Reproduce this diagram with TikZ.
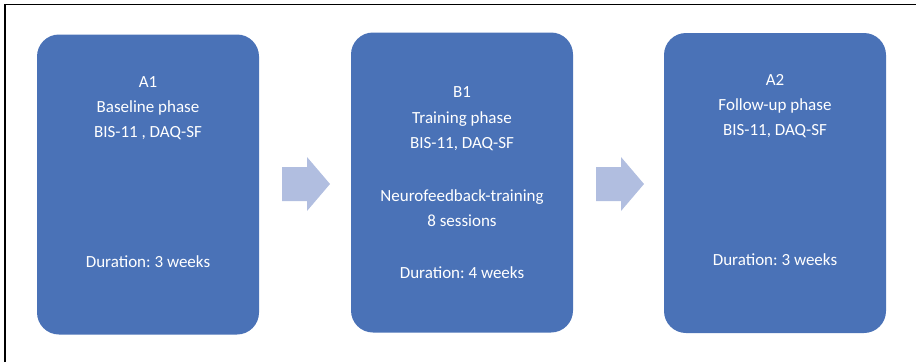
\documentclass[tikz,border=0pt]{standalone}
\usepackage{fontspec}
\setmainfont{Carlito}
\usepackage{tikz}
\usetikzlibrary{positioning}
\frenchspacing

\definecolor{phaseblue}{HTML}{4A72B7}
\definecolor{arrowblue}{HTML}{B1BEE0}

\tikzset{
	phase/.style={fill=phaseblue, rounded corners=22pt, minimum width=222pt, minimum height=300pt, inner sep=0pt},
	phasetext/.style={anchor=base, text=white, font=\fontsize{17pt}{20pt}\selectfont, inner sep=0pt},
	blockarrow/.style={fill=arrowblue}
}

\begin{document}
\begin{tikzpicture}[x=1pt, y=-1pt]
		\useasboundingbox (0,0) rectangle (916,362);
		
		% Frame.
		\draw[line width=1.4pt] (5,362) -- (5,4.5) -- (916,4.5);
		
		% Phase boxes.
		\node[phase] (a1) at (148,184.5) {};
		\node[phase] (b1) at (462,182.5) {};
		\node[phase] (a2) at (775,183) {};
		
		% Baseline phase.
		\node[phasetext] (a1name)  at (148,87)  {A1};
		\node[phasetext] (a1phase) at (148,112) {Baseline phase};
		\node[phasetext] (a1tests) at (148,137) {BIS-11 , DAQ-SF};
		\node[phasetext] (a1dur)   at (148,267) {Duration: 3 weeks};
		
		% Training phase.
		\node[phasetext] (b1name)  at (462,97)  {B1};
		\node[phasetext] (b1phase) at (462,123) {Training phase};
		\node[phasetext] (b1tests) at (462,148) {BIS-11, DAQ-SF};
		\node[phasetext] (b1nf)    at (462,201) {Neurofeedback-training};
		\node[phasetext] (b1sess)  at (462,226) {8 sessions};
		\node[phasetext] (b1dur)   at (462,278) {Duration: 4 weeks};
		
		% Follow-up phase.
		\node[phasetext] (a2name)  at (775,85)  {A2};
		\node[phasetext] (a2phase) at (775,110) {Follow-up phase};
		\node[phasetext] (a2tests) at (775,135) {BIS-11, DAQ-SF};
		\node[phasetext] (a2dur)   at (775,265) {Duration: 3 weeks};
		
		% Block arrows.
		\fill[blockarrow]	(282,167) -- (307,167) -- (307,157) -- (330,184)
							-- (307,211) -- (307,201) -- (282,201) -- cycle;
		\fill[blockarrow]	(596,167) -- (621,167) -- (621,157) -- (644,184)
							-- (621,211) -- (621,201) -- (596,201) -- cycle;

	\end{tikzpicture}
\end{document}
